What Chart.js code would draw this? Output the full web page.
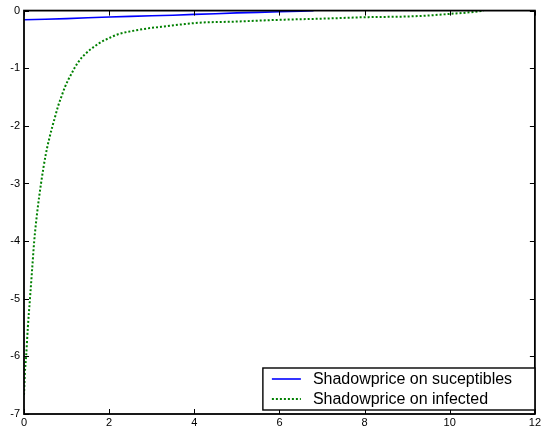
<!DOCTYPE html>
<html>
<head>
<meta charset="utf-8">
<script src="https://cdn.jsdelivr.net/npm/chart.js@4/dist/chart.umd.min.js"></script>
<style>
  html, body { margin: 0; padding: 0; background: #fff; }
  #wrap { width: 543px; height: 432px; position: relative; }
</style>
</head>
<body>
<div id="wrap"><canvas id="chart"></canvas></div>
<script>
// Shadow price on susceptibles
const suscX = [0, 0.5, 1.0, 1.5, 2.0, 2.5, 3.0, 3.5, 4.0, 4.5, 5.0, 5.5, 6.0, 6.5, 6.8];
const suscY = [-0.16, -0.15, -0.14, -0.125, -0.11, -0.1, -0.09, -0.08, -0.065, -0.055, -0.04, -0.03, -0.02, -0.01, 0];

// Shadow price on infected
const infX = [0, 0.02, 0.05, 0.09, 0.14, 0.19, 0.24, 0.31, 0.40, 0.51, 0.67, 0.72, 0.80, 0.88, 0.96, 1.04, 1.12, 1.20, 1.27, 1.35, 1.43, 1.55, 1.66, 1.78, 1.90, 2.05, 2.21, 2.5, 2.9, 3.35, 3.7, 4.12, 5.0, 6.0, 7.0, 8.0, 9.1, 9.6, 10.0, 10.4, 10.6, 10.8];
const infY = [-6.67, -6.3, -6.0, -5.5, -5.0, -4.5, -4.0, -3.5, -3.0, -2.5, -2.0, -1.87, -1.66, -1.49, -1.33, -1.2, -1.09, -0.98, -0.9, -0.82, -0.76, -0.68, -0.62, -0.56, -0.51, -0.46, -0.41, -0.36, -0.31, -0.27, -0.24, -0.21, -0.19, -0.16, -0.14, -0.115, -0.10, -0.08, -0.057, -0.035, -0.02, 0];

const xTicks = [0, 2, 4, 6, 8, 10, 12];
const yTicks = [0, -1, -2, -3, -4, -5, -6, -7];
const seriesNames = ['Shadowprice on suceptibles', 'Shadowprice on infected'];

const toPoints = (xs, ys) => xs.map((x, i) => ({ x: x, y: ys[i] }));

const FONT = 'Liberation Sans, Arial, sans-serif';

// box around the axes with inward tick marks on every side, matlab style
const boxAxes = {
  id: 'boxAxes',
  afterDatasetsDraw(chart) {
    const { ctx, chartArea: a, scales } = chart;
    ctx.save();
    ctx.strokeStyle = '#000';
    ctx.lineWidth = 1;
    const len = 5;
    ctx.beginPath();
    xTicks.forEach(v => {
      const px = Math.round(scales.x.getPixelForValue(v)) + 0.5;
      ctx.moveTo(px, a.bottom); ctx.lineTo(px, a.bottom - len);
      ctx.moveTo(px, a.top); ctx.lineTo(px, a.top + len);
    });
    yTicks.forEach(v => {
      const py = Math.round(scales.y.getPixelForValue(v)) + 0.5;
      ctx.moveTo(a.left, py); ctx.lineTo(a.left + len, py);
      ctx.moveTo(a.right, py); ctx.lineTo(a.right - len, py);
    });
    ctx.stroke();
    ctx.lineWidth = 1.8;
    ctx.strokeRect(a.left, a.top, a.right - a.left, a.bottom - a.top);
    ctx.restore();
  }
};

// legend box tucked into the lower right corner of the axes
const cornerLegend = {
  id: 'cornerLegend',
  afterDraw(chart) {
    const { ctx, chartArea: a } = chart;
    const w = 272, h = 42;
    const x0 = a.right - w, y0 = a.bottom - h - 4;
    ctx.save();
    ctx.fillStyle = '#fff';
    ctx.fillRect(x0, y0, w, h);
    ctx.strokeStyle = '#000';
    ctx.lineWidth = 1.4;
    ctx.strokeRect(x0, y0, w, h);
    ctx.font = '16px ' + FONT;
    ctx.textBaseline = 'middle';
    chart.data.datasets.forEach((ds, i) => {
      const cy = y0 + 11 + i * 20;
      ctx.strokeStyle = ds.borderColor;
      ctx.lineWidth = ds.borderWidth;
      ctx.setLineDash(ds.borderDash || []);
      ctx.beginPath();
      ctx.moveTo(x0 + 9, cy);
      ctx.lineTo(x0 + 38, cy);
      ctx.stroke();
      ctx.setLineDash([]);
      ctx.fillStyle = '#000';
      ctx.fillText(ds.label, x0 + 50, cy + 1);
    });
    ctx.restore();
  }
};

new Chart(document.getElementById('chart'), {
  type: 'line',
  data: {
    datasets: [
      {
        label: seriesNames[0],
        data: toPoints(suscX, suscY),
        borderColor: '#0000ff',
        borderWidth: 1.6,
        pointRadius: 0,
        tension: 0
      },
      {
        label: seriesNames[1],
        data: toPoints(infX, infY),
        borderColor: '#008000',
        borderWidth: 2,
        borderDash: [2, 2],
        pointRadius: 0,
        cubicInterpolationMode: 'monotone'
      }
    ]
  },
  options: {
    responsive: true,
    maintainAspectRatio: false,
    animation: false,
    layout: { padding: { top: 10, right: 7, left: 0, bottom: 0 } },
    plugins: {
      legend: { display: false },
      tooltip: { enabled: false }
    },
    scales: {
      x: {
        type: 'linear',
        min: 0,
        max: 12,
        afterBuildTicks: s => { s.ticks = xTicks.map(v => ({ value: v })); },
        afterFit: s => { s.height = 18; },
        ticks: { color: '#000', font: { family: FONT, size: 11 }, padding: 2, maxRotation: 0 },
        grid: { display: false, drawTicks: false },
        border: { display: false }
      },
      y: {
        min: -7,
        max: 0,
        afterBuildTicks: s => { s.ticks = yTicks.map(v => ({ value: v })); },
        afterFit: s => { s.width = 24; },
        ticks: { color: '#000', font: { family: FONT, size: 11 }, padding: 4 },
        grid: { display: false, drawTicks: false },
        border: { display: false }
      }
    }
  },
  plugins: [boxAxes, cornerLegend]
});
</script>
</body>
</html>
